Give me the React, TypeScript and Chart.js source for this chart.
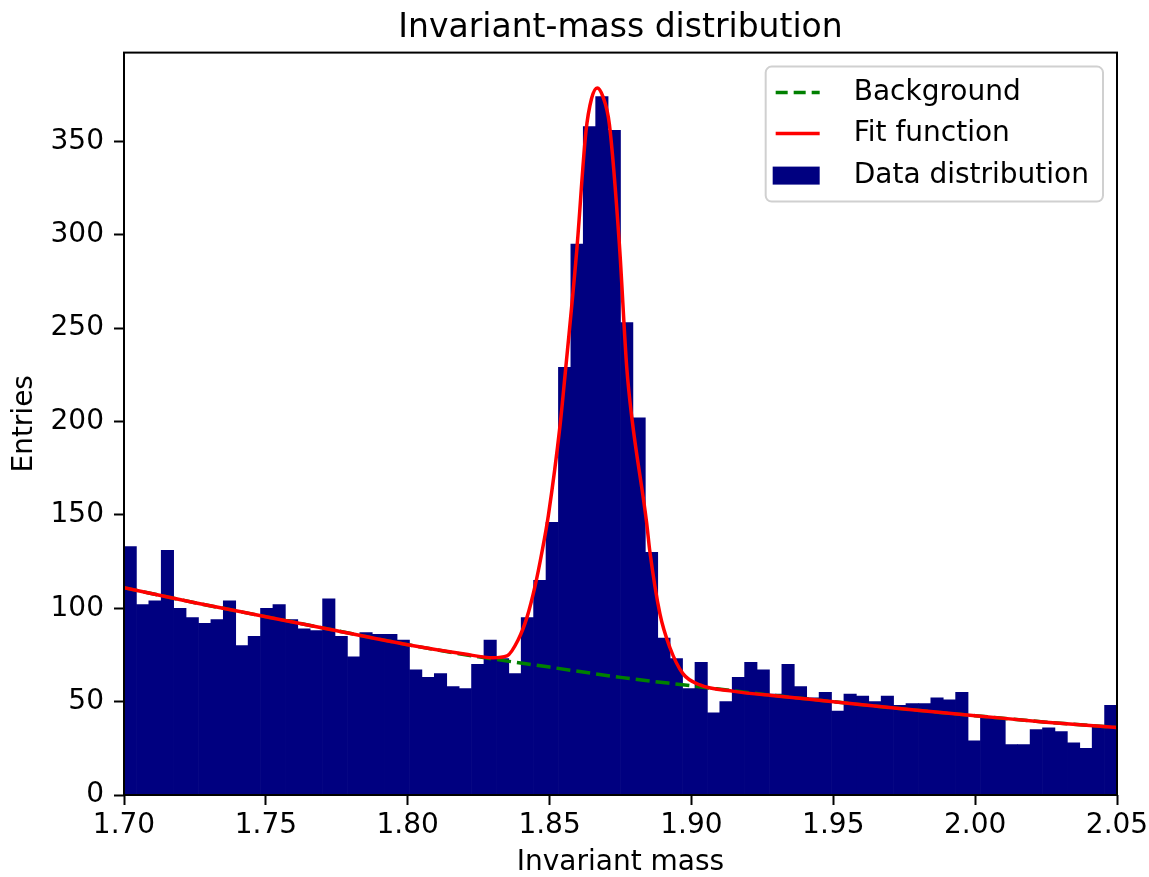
import React, { useEffect, useRef } from 'react';
import { Chart, registerables } from 'chart.js';

Chart.register(...registerables);

// ---- data ----
const histRange = [1.7, 2.05];
const binCounts = [
  133, 102, 104, 131, 100, 95, 92, 94, 104, 80,
  85, 100, 102, 94, 89, 88, 105, 85, 74, 87,
  86, 86, 83, 67, 63, 65, 58, 57, 70, 83,
  73, 65, 95, 115, 146, 229, 295, 358, 374, 356,
  253, 202, 130, 84, 73, 57, 71, 44, 50, 63,
  71, 67, 54, 70, 58, 52, 55, 45, 54, 53,
  50, 53, 48, 49, 49, 52, 51, 55, 29, 42,
  41, 27, 27, 35, 36, 34, 28, 25, 37, 48,
];

const backgroundX = [1.7, 1.725, 1.75, 1.775, 1.8, 1.825, 1.85, 1.875, 1.9, 1.925, 1.95, 1.975, 2.0, 2.025, 2.05];
const backgroundY = [111, 103, 95.5, 88, 80.5, 74, 68.5, 63, 58.5, 54, 50, 46, 42.5, 39, 36.2];

const fitX = [
  1.7, 1.725, 1.75, 1.775, 1.8, 1.82, 1.83, 1.835, 1.8389, 1.842, 1.8449, 1.8473, 1.8496,
  1.8537, 1.8554, 1.8596, 1.8628, 1.8648, 1.8668, 1.8688, 1.8711, 1.8746, 1.8772, 1.879,
  1.8842, 1.8853, 1.8889, 1.8924, 1.897, 1.903, 1.915, 1.93, 1.95, 1.975, 2.0, 2.025, 2.05,
];
const fitY = [
  111, 103, 95.5, 88, 80.5, 75.5, 73.5, 74.5, 83, 95, 112, 130, 150,
  198, 224, 292, 355, 373, 378.7, 374, 359, 295, 229, 202,
  146, 131, 97, 79, 65, 59, 55.5, 53, 50, 46, 42.5, 39, 36.2,
];

const xTicks = [1.7, 1.75, 1.8, 1.85, 1.9, 1.95, 2.0, 2.05];
const xTickLabels = ['1.70', '1.75', '1.80', '1.85', '1.90', '1.95', '2.00', '2.05'];
const yTicks = [0, 50, 100, 150, 200, 250, 300, 350];
const yTickLabels = ['0', '50', '100', '150', '200', '250', '300', '350'];

const titleText = 'Invariant-mass distribution';
const xLabel = 'Invariant mass';
const yLabel = 'Entries';
const seriesLabels = ['Background', 'Fit function', 'Data distribution'];

const FONT = '"DejaVu Sans", Verdana, sans-serif';
const HIST_COLOR = '#000080';
const FIT_COLOR = '#ff0000';
const BG_COLOR = '#008000';

const W = 1149;
const H = 877;

const framePlugin = {
  id: 'mplFrame',
  afterDatasetsDraw(chart: any) {
    const { ctx, chartArea } = chart;
    ctx.save();
    ctx.strokeStyle = '#000';
    ctx.lineWidth = 2;
    ctx.strokeRect(chartArea.left, chartArea.top, chartArea.right - chartArea.left, chartArea.bottom - chartArea.top);
    ctx.restore();
  },
};

const legendPlugin = {
  id: 'mplLegend',
  afterDraw(chart: any) {
    const { ctx, chartArea } = chart;
    const ds = chart.data.datasets;
    const entries = [
      { label: ds[0].label, kind: 'dash', color: ds[0].borderColor },
      { label: ds[1].label, kind: 'line', color: ds[1].borderColor },
      { label: ds[2].label, kind: 'rect', color: ds[2].backgroundColor },
    ];
    ctx.save();
    ctx.font = `28px ${FONT}`;
    const textW = Math.max(...entries.map((e) => ctx.measureText(e.label).width));
    const boxW = 88 + textW + 14;
    const boxH = 135;
    const boxRight = chartArea.right - 14;
    const boxTop = chartArea.top + 14;
    const boxLeft = boxRight - boxW;
    ctx.beginPath();
    (ctx as any).roundRect(boxLeft, boxTop, boxW, boxH, 6);
    ctx.fillStyle = 'rgba(255,255,255,0.8)';
    ctx.fill();
    ctx.strokeStyle = '#d0d0d0';
    ctx.lineWidth = 2;
    ctx.stroke();
    const rowY = [26, 67, 109];
    entries.forEach((e, i) => {
      const cy = boxTop + rowY[i];
      if (e.kind === 'rect') {
        ctx.fillStyle = e.color;
        ctx.fillRect(boxLeft + 7, cy - 9, 47, 18);
      } else {
        ctx.beginPath();
        ctx.strokeStyle = e.color;
        ctx.lineWidth = 3.5;
        ctx.setLineDash(e.kind === 'dash' ? [12, 6] : []);
        ctx.moveTo(boxLeft + 10, cy);
        ctx.lineTo(boxLeft + 54, cy);
        ctx.stroke();
        ctx.setLineDash([]);
      }
      ctx.fillStyle = '#000';
      ctx.textAlign = 'left';
      ctx.textBaseline = 'middle';
      ctx.fillText(e.label, boxLeft + 88, cy);
    });
    ctx.restore();
  },
};

export default function App() {
  const ref = useRef<HTMLCanvasElement | null>(null);

  useEffect(() => {
    if (!ref.current) return;
    const n = binCounts.length;
    const bw = (histRange[1] - histRange[0]) / n;
    const histData = binCounts.map((c, i) => ({ x: histRange[0] + bw * (i + 0.5), y: c }));
    const bgData = backgroundX.map((x, i) => ({ x, y: backgroundY[i] }));
    const fitData = fitX.map((x, i) => ({ x, y: fitY[i] }));

    const tickFont = { family: FONT, size: 28 };

    const chart = new Chart(ref.current, {
      type: 'bar',
      data: {
        datasets: [
          {
            type: 'line',
            label: seriesLabels[0],
            data: bgData,
            borderColor: BG_COLOR,
            borderWidth: 3.5,
            borderDash: [14, 6],
            pointRadius: 0,
            cubicInterpolationMode: 'monotone',
            fill: false,
            order: 2,
          } as any,
          {
            type: 'line',
            label: seriesLabels[1],
            data: fitData,
            borderColor: FIT_COLOR,
            borderWidth: 3.5,
            pointRadius: 0,
            cubicInterpolationMode: 'monotone',
            fill: false,
            order: 1,
          } as any,
          {
            type: 'bar',
            label: seriesLabels[2],
            data: histData,
            backgroundColor: HIST_COLOR,
            borderWidth: 0,
            barPercentage: 1,
            categoryPercentage: 1,
            order: 3,
          } as any,
        ],
      },
      options: {
        animation: false,
        responsive: false,
        devicePixelRatio: 1,
        layout: { padding: 0 },
        plugins: {
          legend: { display: false },
          tooltip: { enabled: false },
          title: {
            display: true,
            fullSize: false,
            text: titleText,
            color: '#000',
            font: { family: FONT, size: 33, weight: 'normal' },
            padding: { top: 9, bottom: 4 },
          },
        },
        scales: {
          x: {
            type: 'linear',
            min: histRange[0],
            max: histRange[1],
            offset: false,
            grid: {
              display: true,
              drawOnChartArea: false,
              drawTicks: true,
              tickLength: 10,
              tickWidth: 2,
              tickColor: '#000',
              offset: false,
            },
            border: { display: false },
            ticks: {
              color: '#000',
              font: tickFont,
              padding: 4,
              maxRotation: 0,
              autoSkip: false,
              callback: (_v: any, i: number) => xTickLabels[i],
            },
            afterBuildTicks: (s: any) => {
              s.ticks = xTicks.map((v) => ({ value: v }));
            },
            afterFit: (s: any) => {
              s.height = 82;
              s.paddingRight = 32;
              s.paddingLeft = 0;
            },
            title: {
              display: true,
              text: xLabel,
              color: '#000',
              font: tickFont,
              padding: { top: 0, bottom: -3 },
            },
          },
          y: {
            type: 'linear',
            min: 0,
            max: 397.6,
            grid: {
              display: true,
              drawOnChartArea: false,
              drawTicks: true,
              tickLength: 10,
              tickWidth: 2,
              tickColor: '#000',
            },
            border: { display: false },
            ticks: {
              color: '#000',
              font: tickFont,
              padding: 10,
              callback: (_v: any, i: number) => yTickLabels[i],
            },
            afterBuildTicks: (s: any) => {
              s.ticks = yTicks.map((v) => ({ value: v }));
            },
            afterFit: (s: any) => {
              s.width = 124;
              s.paddingTop = 0;
              s.paddingBottom = 0;
            },
            title: {
              display: true,
              text: yLabel,
              color: '#000',
              font: tickFont,
              padding: { top: 8, bottom: 0 },
            },
          },
        },
      } as any,
      plugins: [framePlugin, legendPlugin],
    });
    return () => chart.destroy();
  }, []);

  return (
    <div style={{ position: 'fixed', left: 0, top: 0, width: W, height: H, background: '#fff' }}>
      <canvas ref={ref} width={W} height={H} style={{ display: 'block', width: W, height: H }} />
    </div>
  );
}
